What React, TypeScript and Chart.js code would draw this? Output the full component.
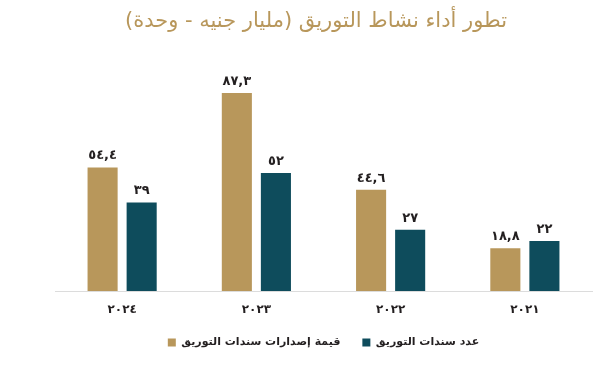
import React, { useEffect, useRef } from "react";
import { Chart, registerables } from "chart.js";

Chart.register(...registerables);

const categories = ["2024", "2023", "2022", "2021"];
const issuanceValue = [54.4, 87.3, 44.6, 18.8];
const bondCount = [39, 52, 27, 22];
const seriesNames = ["قيمة إصدارات سندات التوريق", "عدد سندات التوريق"];
const titleText = "تطور أداء نشاط التوريق (مليار جنيه - وحدة)";

const GOLD = "#b8975b";
const TEAL = "#0e4c5c";
const TEXT = "#231f20";
const ARABIC_FONT = "'DejaVu Sans', sans-serif";
const RLM = "\u200F";

const toArabicDigits = (s: string) =>
  s.replace(/[0-9]/g, (d) => "٠١٢٣٤٥٦٧٨٩"[Number(d)]).replace(/\./g, ",");

const valueLabels = {
  id: "valueLabels",
  afterDatasetsDraw(chart: any) {
    const ctx = chart.ctx;
    ctx.save();
    ctx.font = `bold 13px ${ARABIC_FONT}`;
    ctx.fillStyle = TEXT;
    ctx.textAlign = "center";
    ctx.textBaseline = "bottom";
    chart.data.datasets.forEach((ds: any, di: number) => {
      const meta = chart.getDatasetMeta(di);
      meta.data.forEach((bar: any, i: number) => {
        const v = ds.data[i];
        ctx.fillText(toArabicDigits(String(v)), bar.x, bar.y - 5);
      });
    });
    ctx.restore();
  },
};

export default function App() {
  const ref = useRef<HTMLCanvasElement>(null);
  useEffect(() => {
    document.body.style.margin = "0";
    const chart = new Chart(ref.current!, {
      type: "bar",
      data: {
        labels: categories.map(toArabicDigits),
        datasets: [
          {
            label: seriesNames[0],
            data: issuanceValue,
            backgroundColor: GOLD,
            categoryPercentage: 0.582,
            barPercentage: 0.77,
          },
          {
            label: seriesNames[1],
            data: bondCount,
            backgroundColor: TEAL,
            categoryPercentage: 0.582,
            barPercentage: 0.77,
          },
        ],
      },
      options: {
        responsive: false,
        animation: false,
        layout: { padding: { left: 40, right: 7, top: 0, bottom: 15 } },
        scales: {
          x: {
            grid: { display: false },
            border: { display: true, color: "#dcdcdc", width: 1 },
            ticks: {
              color: TEXT,
              font: { family: ARABIC_FONT, size: 12, weight: "bold" },
              padding: 4,
            },
            afterFit(scale: any) {
              scale.height = 24;
            },
          },
          y: {
            min: 0,
            max: 100,
            grid: { display: false },
            border: { display: false },
            ticks: { display: false },
            afterFit(scale: any) {
              scale.width = 15;
            },
          },
        },
        plugins: {
          title: {
            display: true,
            text: RLM + titleText + RLM,
            color: GOLD,
            font: { family: ARABIC_FONT, size: 21, weight: "normal" },
            padding: { top: 9, bottom: 30 },
          },
          legend: {
            display: true,
            position: "bottom",
            fullSize: false,
            labels: {
              color: TEXT,
              font: { family: ARABIC_FONT, size: 11, weight: "bold" },
              boxWidth: 8,
              boxHeight: 8,
              padding: 22,
            },
          },
          tooltip: { enabled: false },
        },
      },
      plugins: [valueLabels],
    });
    return () => chart.destroy();
  }, []);
  return (
    <div style={{ width: 599, height: 373 }}>
      <canvas ref={ref} width={599} height={373} />
    </div>
  );
}
